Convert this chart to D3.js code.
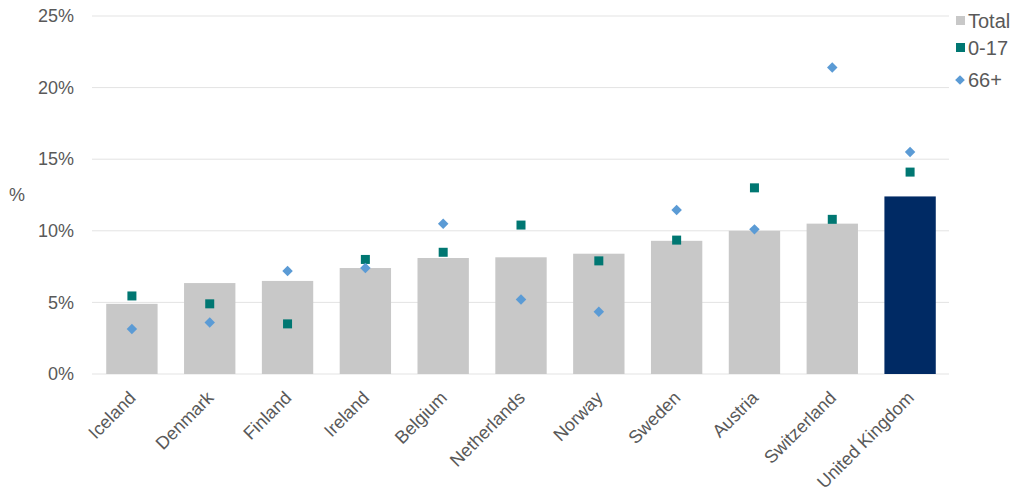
<!DOCTYPE html>
<html><head><meta charset="utf-8">
<script src="https://cdn.jsdelivr.net/npm/d3@7"></script>
<style>body{margin:0;background:#fff;font-family:"Liberation Sans",Arial,sans-serif;}</style>
</head><body><svg id="c" width="1024" height="503"></svg>
<script>
const categories = ["Iceland","Denmark","Finland","Ireland","Belgium","Netherlands","Norway","Sweden","Austria","Switzerland","United Kingdom"];
const total = [4.9,6.35,6.5,7.4,8.1,8.15,8.4,9.3,10.0,10.5,12.4];
const age0to17 = [5.45,4.9,3.5,8.0,8.5,10.4,7.9,9.35,13.0,10.8,14.1];
const age66plus = [3.15,3.6,7.2,7.4,10.5,5.2,4.35,11.45,10.1,21.4,15.5];
const yTicks = [0,5,10,15,20,25];
const legendLabels = ["Total","0-17","66+"];

const svg = d3.select("#c");
const m = {l:93, r:949, t:16, b:374};
const x = d3.scaleBand().domain(categories).range([m.l, m.r]).paddingInner(0.34).paddingOuter(0.17);
const y = d3.scaleLinear().domain([0,25]).range([m.b, m.t]);

// gridlines
svg.append("g").selectAll("line").data(yTicks).join("line")
  .attr("x1", m.l-1).attr("x2", m.r).attr("y1", d=>y(d)).attr("y2", d=>y(d))
  .attr("stroke", "#e3e3e3").attr("stroke-width", 1);

// y axis labels
const ya = svg.append("g").attr("transform", `translate(${m.l-16},0)`)
  .call(d3.axisLeft(y).tickValues(yTicks).tickFormat(d=>d+"%").tickSize(0));
ya.select(".domain").remove();
ya.selectAll("text").attr("font-size", 18).attr("fill","#595959").attr("font-family","Liberation Sans, Arial, sans-serif");

svg.append("text").attr("x", 17).attr("y", 201).attr("text-anchor","middle")
  .attr("font-size", 18).attr("fill","#595959").text("%");

// bars
svg.append("g").selectAll("rect").data(categories).join("rect")
  .attr("x", d=>x(d)).attr("width", x.bandwidth())
  .attr("y", (d,i)=>y(total[i])).attr("height", (d,i)=>y(0)-y(total[i]))
  .attr("fill", (d,i)=> d==="United Kingdom" ? "#002a64" : "#c8c8c8");

// x axis labels
const xa = svg.append("g").attr("transform", `translate(0,${m.b})`)
  .call(d3.axisBottom(x).tickSize(0));
xa.select(".domain").remove();
xa.selectAll("text").attr("font-size", 18).attr("fill","#595959")
  .attr("font-family","Liberation Sans, Arial, sans-serif")
  .attr("text-anchor","end").attr("dy", 0).attr("y", 0)
  .attr("transform", "translate(5,25) rotate(-45)");

// markers
const cx = d => x(d) + x.bandwidth()/2;
svg.append("g").selectAll("rect").data(categories).join("rect")
  .attr("x", d=>cx(d)-4.5).attr("y", (d,i)=>y(age0to17[i])-4.5)
  .attr("width", 9).attr("height", 9).attr("fill", "#007772");
const dia = d3.symbol().type(d3.symbolDiamond2).size(70);
svg.append("g").selectAll("path").data(categories).join("path")
  .attr("d", dia)
  .attr("transform", (d,i)=>`translate(${cx(d)},${y(age66plus[i])})`)
  .attr("fill", "#5b9bd5");

// legend
const lg = svg.append("g");
const ly = [21, 48, 80];
lg.append("rect").attr("x", 956).attr("y", ly[0]-5).attr("width", 9).attr("height", 9).attr("fill","#c8c8c8");
lg.append("rect").attr("x", 956).attr("y", ly[1]-5).attr("width", 9).attr("height", 9).attr("fill","#007772");
lg.append("path").attr("d", d3.symbol().type(d3.symbolDiamond2).size(60)).attr("transform", `translate(960,${ly[2]})`).attr("fill","#5b9bd5");
lg.selectAll("text").data(legendLabels).join("text")
  .attr("x", 968).attr("y", (d,i)=>ly[i]+7).attr("font-size", 20).attr("fill","#595959").text(d=>d);
</script></body></html>
